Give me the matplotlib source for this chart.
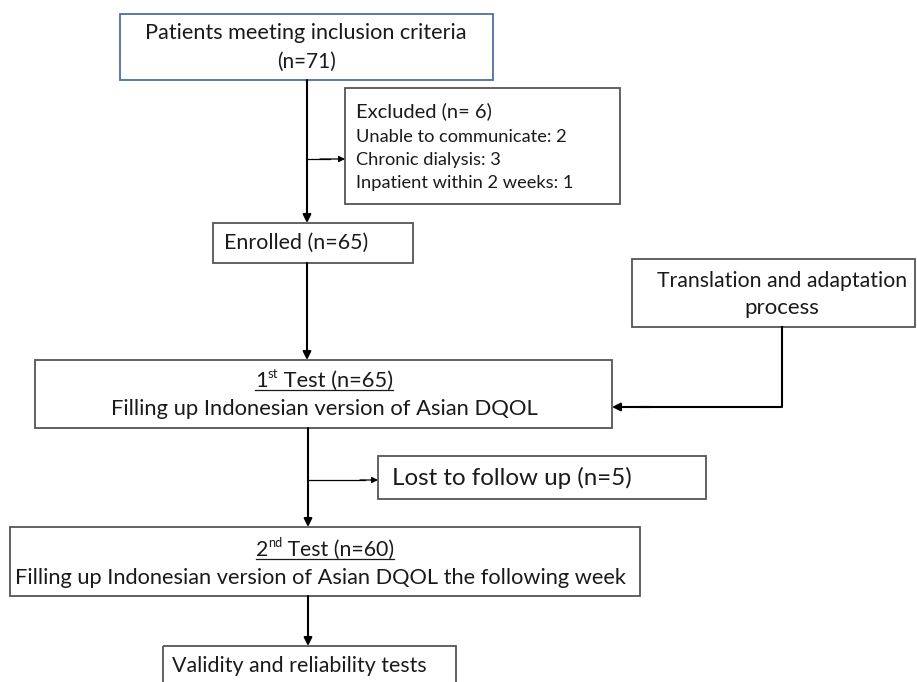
import matplotlib.pyplot as plt
from matplotlib.patches import Rectangle

plt.rcParams['font.family'] = ['Lato', 'DejaVu Sans']

# flowchart contents
n_screened = 71
excluded_reasons = ['Unable to communicate', 'Chronic dialysis', 'Inpatient within 2 weeks']
excluded_counts = [2, 3, 1]
n_enrolled = 65
n_test1 = 65
n_lost = 5
n_test2 = 60

TEXT = '#1a1a1a'
EDGE = '#555555'
BLUE = '#4f6f9f'

fig = plt.figure(figsize=(9.17, 6.82), dpi=100)
ax = fig.add_axes([0, 0, 1, 1])
ax.set_xlim(0, 917)
ax.set_ylim(682, 0)
ax.axis('off')
fig.canvas.draw()
renderer = fig.canvas.get_renderer()


def box(x0, y0, x1, y1, color=EDGE):
    ax.add_patch(Rectangle((x0, y0), x1 - x0, y1 - y0, fill=False,
                           edgecolor=color, lw=1.3, zorder=2))


def label(x, y, s, width, ha='center'):
    # text sized so that it spans about `width` pixels, like the original
    t = ax.text(x, y, s, fontsize=14, color=TEXT, ha=ha, va='center')
    w = t.get_window_extent(renderer).width
    t.set_fontsize(14 * width / w)
    return t


def rich_line(xc, y, parts, width):
    # parts: (text, superscript?) pieces drawn side by side, centred and underlined
    texts = []
    for s, sup in parts:
        t = ax.text(0, y, s, fontsize=8.4 if sup else 14, color=TEXT,
                    va='baseline', ha='left')
        texts.append((t, sup))
    total = sum(t.get_window_extent(renderer).width for t, _ in texts)
    size = 14 * width / total
    for t, sup in texts:
        t.set_fontsize(size * 0.6 if sup else size)
    widths = [t.get_window_extent(renderer).width for t, _ in texts]
    x = xc - sum(widths) / 2
    for (t, sup), w in zip(texts, widths):
        t.set_x(x)
        if sup:
            t.set_y(y - size * 0.6)
        x += w
    ax.plot([xc - sum(widths) / 2, xc + sum(widths) / 2], [y + 3, y + 3],
            color=TEXT, lw=0.9)


def arrow(x0, y0, x1, y1, lw=1.5, ms=12):
    ax.annotate('', xy=(x1, y1), xytext=(x0, y0),
                arrowprops=dict(arrowstyle='-|>', lw=lw, color='black',
                                shrinkA=0, shrinkB=0, mutation_scale=ms))


# boxes
box(120, 14, 493, 80, BLUE)
label(306, 33, 'Patients meeting inclusion criteria', 321)
label(306, 62, f'(n={n_screened})', 59)

box(345, 88, 620, 204)
label(356, 111, f'Excluded (n= {sum(excluded_counts)})', 137, ha='left')
for i, (r, c) in enumerate(zip(excluded_reasons, excluded_counts)):
    t = ax.text(356, 137 + i * 23, f'{r}: {c}', fontsize=12, color=TEXT,
                ha='left', va='center')
    if i == 0:
        sub_size = 12 * 210 / t.get_window_extent(renderer).width
    t.set_fontsize(sub_size)

box(213, 223, 413, 263)
label(224, 243, f'Enrolled (n={n_enrolled})', 144, ha='left')

box(632, 259, 915, 327)
label(782, 281, 'Translation and adaptation', 250)
label(782, 308, 'process', 75)

box(35, 360, 612, 428)
rich_line(324, 387, [('1', False), ('st', True), (f' Test (n={n_test1})', False)], 138)
label(324, 409, 'Filling up Indonesian version of Asian DQOL', 430)

box(378, 456, 706, 499)
label(392, 478, f'Lost to follow up (n={n_lost})', 241, ha='left')

box(10, 527, 640, 596)
rich_line(325, 556, [('2', False), ('nd', True), (f' Test (n={n_test2})', False)], 139)
label(320, 578, 'Filling up Indonesian version of Asian DQOL the following week', 613)

box(163, 646, 456, 700)
label(172, 666, 'Validity and reliability tests', 254, ha='left')

# connectors
arrow(307, 80, 307, 223)
ax.plot([307, 330], [159, 159], color='black', lw=0.9)
arrow(320, 159, 345, 159, lw=0.9, ms=9)
arrow(307, 263, 307, 360)
ax.plot([782, 782, 640], [327, 407, 407], color='black', lw=1.5)
arrow(650, 407, 612, 407)
arrow(308, 428, 308, 527)
ax.plot([308, 365], [480, 480], color='black', lw=0.9)
arrow(360, 480, 378, 480, lw=0.9, ms=9)
arrow(308, 596, 308, 646)

fig.savefig('out.png', dpi=100, facecolor='white')
